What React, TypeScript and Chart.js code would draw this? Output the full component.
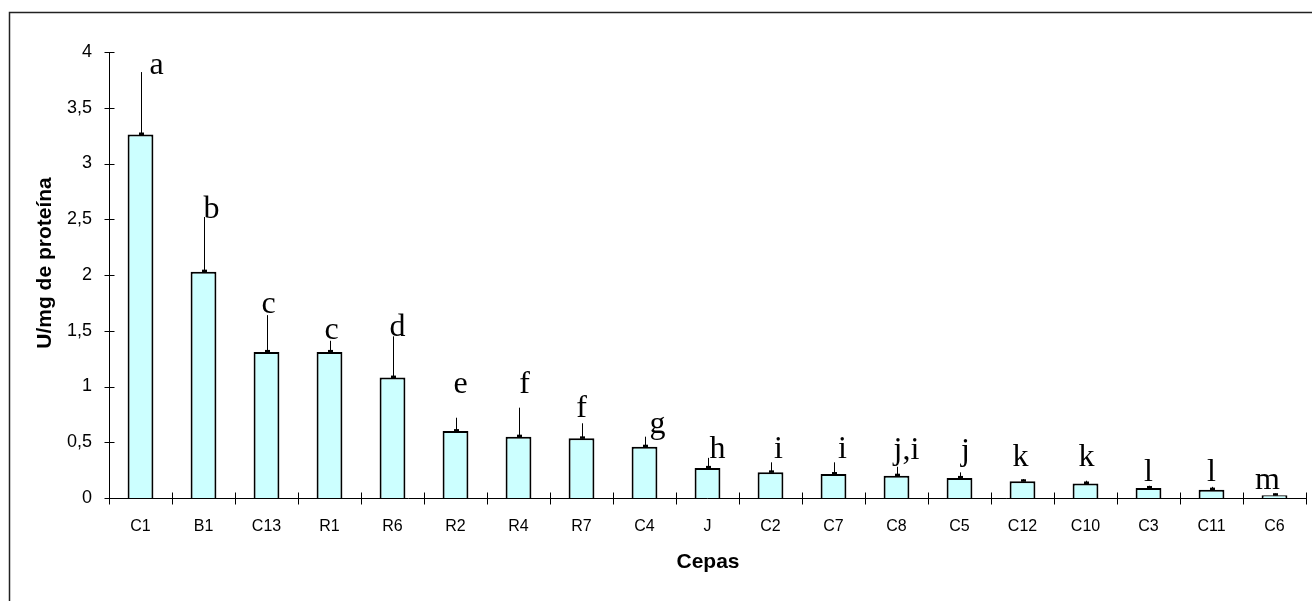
import React, { useEffect, useRef } from "react";
import { Chart, registerables } from "chart.js";

Chart.register(...registerables);

// Strains (cepas) and specific activity in U/mg of protein
const strains = ["C1", "B1", "C13", "R1", "R6", "R2", "R4", "R7", "C4", "J", "C2", "C7", "C8", "C5", "C12", "C10", "C3", "C11", "C6"];
const activity = [3.26, 2.03, 1.31, 1.31, 1.08, 0.6, 0.55, 0.535, 0.46, 0.27, 0.23, 0.215, 0.2, 0.18, 0.15, 0.13, 0.09, 0.075, 0.025];
// upper standard deviation of each mean
const errorUp = [0.56, 0.49, 0.33, 0.1, 0.37, 0.12, 0.26, 0.135, 0.09, 0.09, 0.09, 0.105, 0.08, 0.05, 0.02, 0.025, 0.02, 0.025, 0.015];
// significance groups and the level (in U/mg) where each letter sits
const groups = ["a", "b", "c", "c", "d", "e", "f", "f", "g", "h", "i", "i", "j,i", "j", "k", "k", "l", "l", "m"];
const groupLevel = [3.8, 2.51, 1.66, 1.43, 1.45, 0.94, 0.94, 0.73, 0.58, 0.36, 0.36, 0.36, 0.35, 0.34, 0.29, 0.29, 0.15, 0.15, 0.08];
const yMin = 0;
const yMax = 4;
const yStep = 0.5;

const xTitle = "Cepas";
const yTitle = "U/mg de proteína";

// horizontal nudge of each letter relative to its bar centre (px)
const LETTER_SHIFT = [16, 8, 2, 2, 5, 5, 6, 0, 13, 10, 8, 9, 10, 6, -2, 1, 0, 0, -7];

const annotate = {
  id: "annotate",
  beforeDraw(chart: any) {
    const ctx = chart.ctx;
    ctx.save();
    ctx.strokeStyle = "#222";
    ctx.lineWidth = 1.5;
    ctx.beginPath();
    ctx.moveTo(9.5, chart.height);
    ctx.lineTo(9.5, 12.5);
    ctx.lineTo(chart.width, 12.5);
    ctx.stroke();
    ctx.restore();
  },
  afterDatasetsDraw(chart: any) {
    const ctx = chart.ctx;
    const x = chart.scales.x;
    const y = chart.scales.y;
    const area = chart.chartArea;
    ctx.save();

    // error bars: upper whisker plus a small nub on the bar top
    ctx.strokeStyle = "#000";
    ctx.fillStyle = "#000";
    activity.forEach((v, i) => {
      const cx = Math.round(x.getPixelForValue(i)) + 0.5;
      const yTop = y.getPixelForValue(v);
      const yErr = y.getPixelForValue(v + errorUp[i]);
      ctx.lineWidth = 1;
      ctx.beginPath();
      ctx.moveTo(cx, yTop);
      ctx.lineTo(cx, yErr);
      ctx.stroke();
      ctx.fillRect(cx - 2.5, yTop - 2, 5, 2.5);
    });

    // axes with ticks crossing the lines
    ctx.lineWidth = 1;
    ctx.strokeStyle = "#000";
    const ax = Math.round(area.left) + 0.5;
    const ay = Math.round(area.bottom) + 0.5;
    ctx.beginPath();
    ctx.moveTo(ax, area.top);
    ctx.lineTo(ax, ay + 3);
    ctx.moveTo(ax, ay);
    ctx.lineTo(area.right, ay);
    for (let v = yMin; v <= yMax + 1e-9; v += yStep) {
      const py = Math.round(y.getPixelForValue(v)) + 0.5;
      ctx.moveTo(ax - 5, py);
      ctx.lineTo(ax + 5, py);
    }
    const step = (area.right - area.left) / strains.length;
    for (let i = 0; i <= strains.length; i++) {
      const px = Math.round(x.getPixelForValue(i) - step / 2) + 0.5;
      ctx.moveTo(px, ay - 6);
      ctx.lineTo(px, ay + 6);
    }
    ctx.stroke();

    // significance letters
    ctx.fillStyle = "#000";
    ctx.font = '32px "Liberation Serif", "Times New Roman", serif';
    ctx.textAlign = "center";
    ctx.textBaseline = "alphabetic";
    groups.forEach((g, i) => {
      ctx.fillText(g, x.getPixelForValue(i) + LETTER_SHIFT[i], y.getPixelForValue(groupLevel[i]));
    });

    // axis titles
    ctx.font = 'bold 21px "Liberation Sans", Arial, sans-serif';
    ctx.textBaseline = "middle";
    ctx.fillText(xTitle, 708, 562);
    ctx.translate(45.5, 263);
    ctx.rotate(-Math.PI / 2);
    ctx.fillText(yTitle, 0, 0);
    ctx.restore();
  },
};

export default function App() {
  const ref = useRef<HTMLCanvasElement>(null);

  useEffect(() => {
    if (!ref.current) return;
    const chart = new Chart(ref.current, {
      type: "bar",
      data: {
        labels: strains,
        datasets: [
          {
            data: activity,
            backgroundColor: "#CCFFFF",
            borderColor: "#000",
            borderWidth: 2,
            barPercentage: 0.41,
            categoryPercentage: 1,
          },
        ],
      },
      options: {
        animation: false,
        responsive: true,
        maintainAspectRatio: false,
        layout: { padding: { top: 52, right: 6, left: 0, bottom: 0 } },
        plugins: { legend: { display: false }, tooltip: { enabled: false } },
        scales: {
          x: {
            grid: { display: false },
            border: { display: false },
            ticks: {
              color: "#000",
              font: { family: '"Liberation Sans", Arial, sans-serif', size: 16 },
              padding: 11,
              autoSkip: false,
              maxRotation: 0,
            },
            afterFit: (s: any) => {
              s.height = 103;
            },
          },
          y: {
            min: yMin,
            max: yMax,
            grid: { display: false },
            border: { display: false },
            ticks: {
              stepSize: yStep,
              color: "#000",
              font: { family: '"Liberation Sans", Arial, sans-serif', size: 18 },
              padding: 9,
              callback: (v: any) => String(v).replace(".", ","),
            },
            afterFit: (s: any) => {
              s.width = 109;
            },
          },
        },
      },
      plugins: [annotate],
    });
    return () => chart.destroy();
  }, []);

  return (
    <div style={{ position: "fixed", left: 0, top: 0, width: 1312, height: 601, background: "#fff" }}>
      <canvas ref={ref} />
    </div>
  );
}
